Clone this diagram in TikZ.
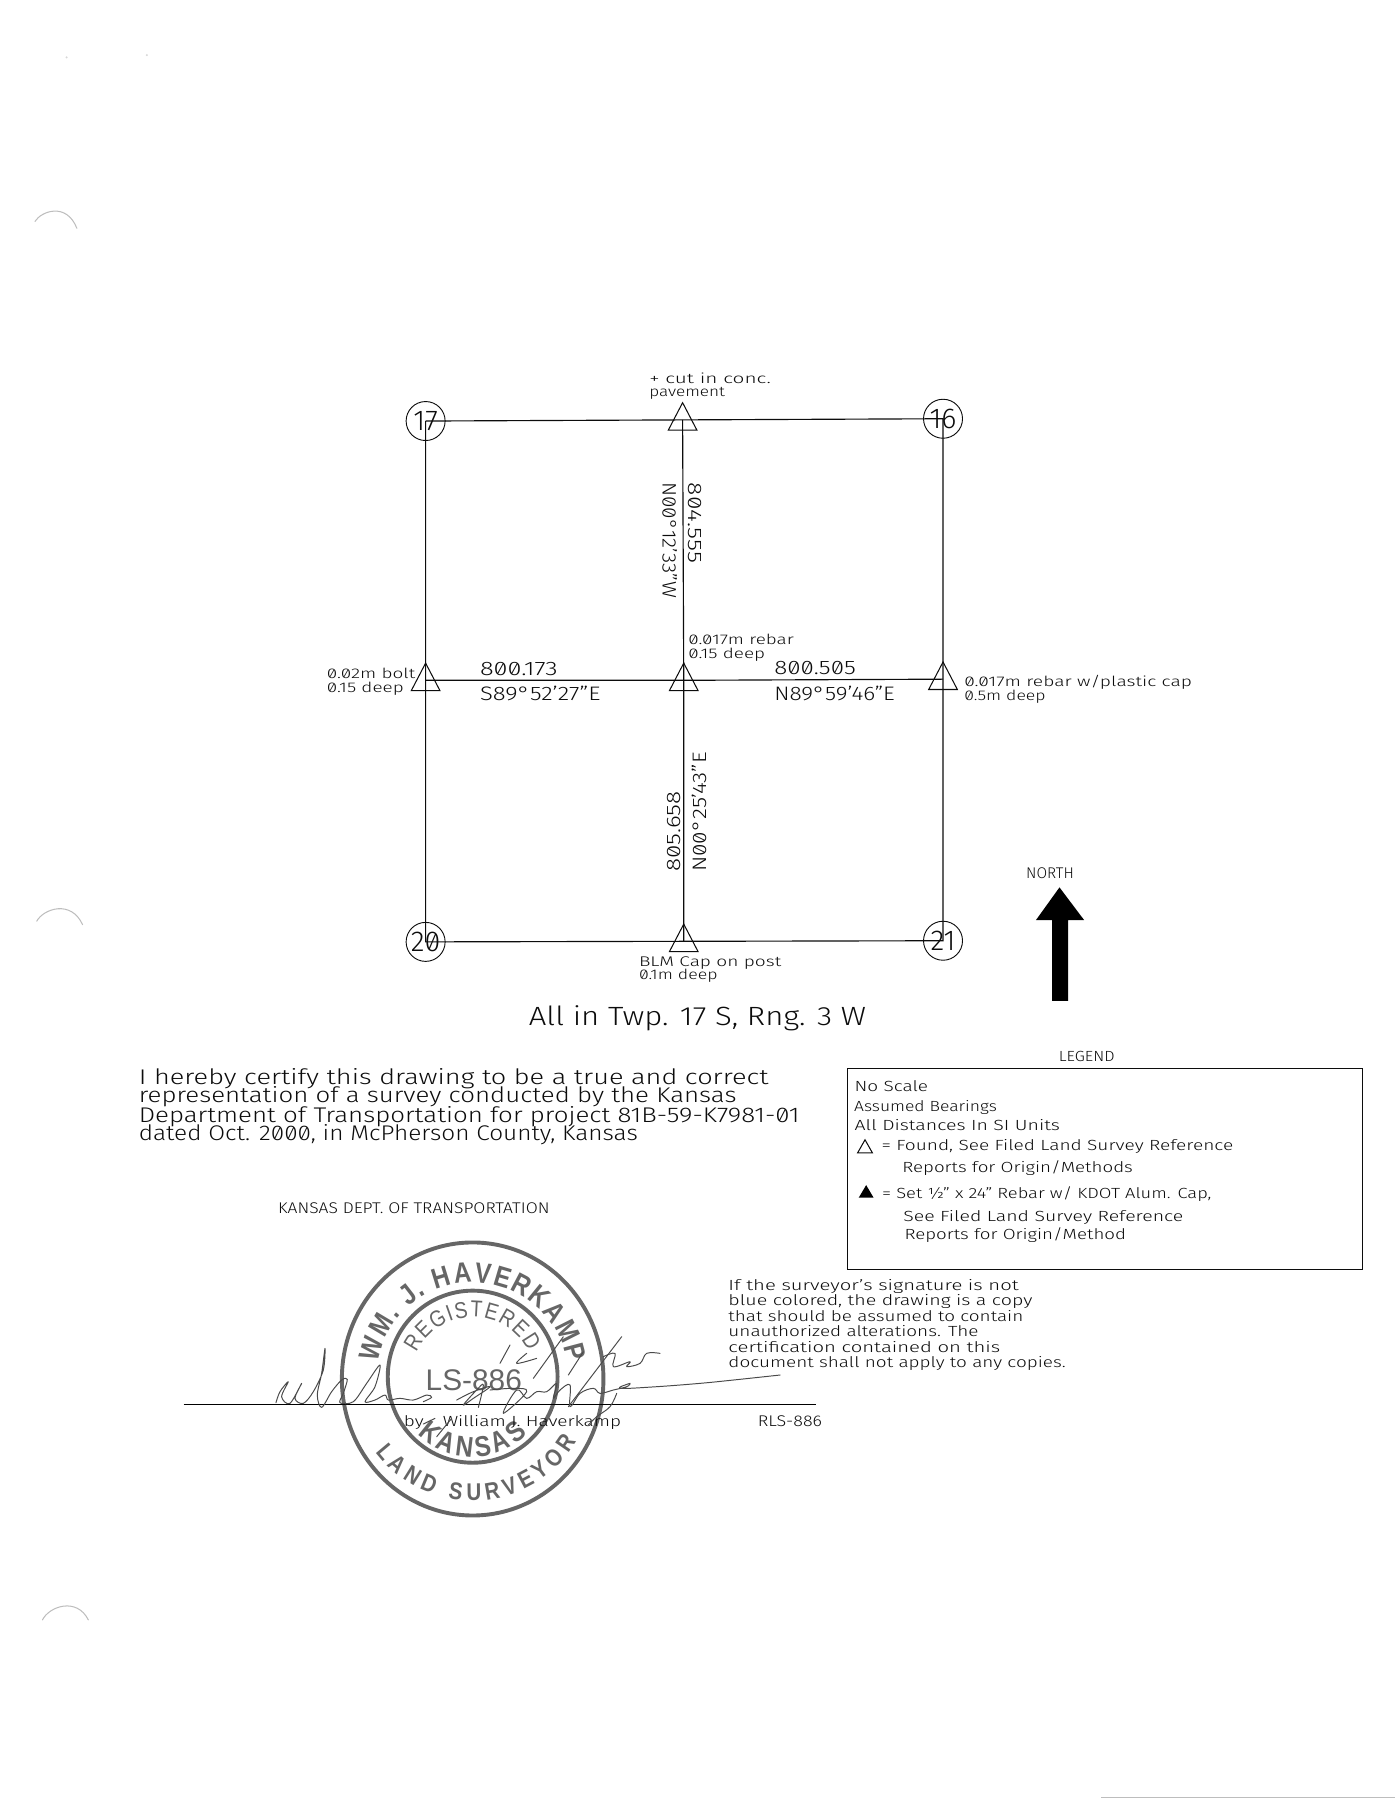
\documentclass[tikz,border=0pt]{standalone}
\usepackage{fontspec}
\usetikzlibrary{decorations.text}
\setmainfont{Fira Sans Light}[Numbers=SlashedZero]
\newfontfamily\stampfont{Liberation Sans}[FakeStretch=0.85]
\newfontfamily\stampplain{Liberation Sans}
\newsavebox\fitbox
\newcommand\fitw[2]{\sbox\fitbox{#2}\pgfmathsetmacro\fitr{#1/\the\wd\fitbox}\scalebox{\fitr}[1]{\usebox\fitbox}}
\definecolor{ink}{HTML}{0C0C0C}
\definecolor{stampink}{HTML}{666666}
\definecolor{signink}{HTML}{4A4A4A}
\definecolor{ghost}{HTML}{BDBDBD}
\tikzset{
 txt/.style={anchor=base west,inner sep=0pt,outer sep=0pt,text=ink},
 tsmall/.style={txt,font=\fontsize{12.2}{12.2}\selectfont},
 tmed/.style={txt,font=\fontsize{17}{17}\selectfont},
 tbody/.style={txt,font=\fontsize{18.5}{18.5}\selectfont},
 tleg/.style={txt,font=\fontsize{12.8}{12.8}\selectfont},
 tbig/.style={txt,font=\fontsize{23}{23}\selectfont},
 corner/.style={draw=ink,circle,minimum size=34pt,inner sep=0pt,line width=0.8pt,text=ink},
 cornernum/.style={font=\fontsize{25}{25}\selectfont,text=ink,inner sep=0pt},
 survey/.pic={\draw[ink,line width=0.9pt,line join=miter] (0,-15)--(12.5,9)--(-12.5,9)--cycle;},
 lineink/.style={draw=ink,line width=1pt},
 signstroke/.style={draw=signink,line width=0.85pt,line cap=round,line join=round},
 ringstyle/.style={draw=stampink,line width=3.4pt},
 ghostarc/.style={draw=ghost,line width=0.9pt,line cap=round},
}
\begin{document}
\begin{tikzpicture}[x=1pt,y=-1pt]
\useasboundingbox (0,0) rectangle (1216,1569);
% scan artefacts
\draw[ghostarc] (30.5,193) .. controls (36,184) and (58,176) .. (67,199);
\draw[ghostarc] (32,803) .. controls (38,792) and (62,784) .. (72,806);
\draw[ghostarc] (37,1412) .. controls (43,1400) and (67,1392) .. (77,1412);
\fill[ghost!60] (58,50) circle (1pt) (128,48) circle (1pt);
\draw[ghost,line width=0.7pt] (960,1567) -- (1216,1567);
% corners
\coordinate (tN) at (595,366);
\coordinate (tW) at (371,593);
\coordinate (tC) at (596,593);
\coordinate (tE) at (822,592);
\coordinate (tS) at (596,820.5);
\node[corner] (c17) at (371,367) {};
\node[corner] (c16) at (822,365) {};
\node[corner] (c20) at (371,821) {};
\node[corner] (c21) at (822,820) {};
\node[cornernum] (n17) at (c17.center) {17};
\node[cornernum] (n16) at (c16.center) {16};
\node[cornernum] (n20) at (c20.center) {20};
\node[cornernum] (n21) at (c21.center) {21};
\draw[lineink] (c17.center) -- (tN) -- (c16.center) -- (tE) -- (c21.center) -- (tS) -- (c20.center) -- (tW) -- (c17.center);
\draw[lineink] (tN) -- (tC) -- (tS);
\draw[lineink] (tW) -- (tC) -- (tE);
\foreach \t in {tN,tW,tC,tE,tS} {\pic at (\t) {survey};}
% annotations
\node[tsmall] (a1) at (566,334) {\fitw{106}{+ cut in conc.}};
\node[tsmall] (a2) at (566,346) {\fitw{66}{pavement}};
\node[tsmall] (a3) at (600,562) {\fitw{92}{0.017m rebar}};
\node[tsmall] (a4) at (600,574) {\fitw{67}{0.15 deep}};
\node[tsmall] (a5) at (285,591) {\fitw{77}{0.02m bolt}};
\node[tsmall] (a6) at (285,603.5) {\fitw{67}{0.15 deep}};
\node[tsmall] (a7) at (840.5,598.5) {\fitw{198.5}{0.017m rebar w/plastic cap}};
\node[tsmall] (a8) at (840.5,610.5) {\fitw{71}{0.5m deep}};
\node[tsmall] (a9) at (557,842.5) {\fitw{124}{BLM Cap on post}};
\node[tsmall] (a10) at (557,854) {\fitw{68.5}{0.1m deep}};
\node[tmed] (d1) at (418.5,588.5) {\fitw{67.5}{800.173}};
\node[tmed] (b1) at (418.5,611) {\fitw{105}{S89°52'27"E}};
\node[tmed] (d2) at (675,588) {\fitw{71}{800.505}};
\node[tmed] (b2) at (675,610.5) {\fitw{105}{N89°59'46"E}};
\node[tmed,rotate=-90] (d3) at (600.5,421) {\fitw{70}{804.555}};
\node[tmed,rotate=-90] (b3) at (577.5,420.5) {\fitw{101}{N00°12'33"W}};
\node[tmed,rotate=90] (d4) at (593,760) {\fitw{70}{805.658}};
\node[tmed,rotate=90] (b4) at (615.5,760) {\fitw{104.5}{N00°25'43"E}};
\node[tleg,font=\fontsize{13.5}{13.5}\selectfont] (north) at (894.5,766) {\fitw{41.5}{NORTH}};
\fill[black] (923.5,773.5) -- (945,802) -- (931,802) -- (931,872.5) -- (917,872.5) -- (917,802) -- (903,802) -- cycle;
\node[tbig] (all) at (461,894) {\fitw{294}{All in Twp. 17 S, Rng. 3 W}};
% certification
\node[tbody] (c1) at (121,945) {\fitw{549}{I hereby certify this drawing to be a true and correct}};
\node[tbody] (c2) at (121,961) {\fitw{521}{representation of a survey conducted by the Kansas}};
\node[tbody] (c3) at (121,978) {\fitw{576}{Department of Transportation for project 81B-59-K7981-01}};
\node[tbody] (c4) at (121,994) {\fitw{435}{dated Oct. 2000, in McPherson County, Kansas}};
\node[tleg,font=\fontsize{13.5}{13.5}\selectfont] (kd) at (242.5,1057.5) {\fitw{236.5}{KANSAS DEPT. OF TRANSPORTATION}};
% legend
\node[tleg] (lt) at (923,925.5) {\fitw{48.5}{LEGEND}};
\node[draw=ink,line width=1pt,minimum width=449pt,minimum height=175pt,inner sep=0pt,anchor=north west] (lbox) at (738,931) {};
\node[tleg] (l1) at (745,951.5) {\fitw{64}{No Scale}};
\node[tleg] (l2) at (744.5,968.5) {\fitw{124.5}{Assumed Bearings}};
\node[tleg] (l3) at (745,985) {\fitw{179}{All Distances In SI Units}};
\draw[ink,line width=0.9pt] (754,993.5) -- (760.5,1005) -- (747.5,1005) -- cycle;
\node[tleg] (l4) at (768.5,1003) {\fitw{306.5}{= Found, See Filed Land Survey Reference}};
\node[tleg] (l5) at (786.5,1022) {\fitw{201}{Reports for Origin/Methods}};
\fill[black] (755,1033) -- (761.5,1044) -- (748.5,1044) -- cycle;
\node[tleg] (l6) at (769,1045) {\fitw{287}{= Set ½" x 24" Rebar w/ KDOT Alum. Cap,}};
\node[tleg] (l7) at (787.5,1064.5) {\fitw{244}{See Filed Land Survey Reference}};
\node[tleg] (l8) at (788.5,1080) {\fitw{193}{Reports for Origin/Method}};
% note
\node[tleg] (m1) at (635,1124.5) {\fitw{253}{If the surveyor's signature is not}};
\node[tleg] (m2) at (635,1138) {\fitw{265}{blue colored, the drawing is a copy}};
\node[tleg] (m3) at (635,1152) {\fitw{257}{that should be assumed to contain}};
\node[tleg] (m4) at (635,1165) {\fitw{218}{unauthorized alterations. The}};
\node[tleg] (m5) at (635,1178.5) {\fitw{237}{certification contained on this}};
\node[tleg] (m6) at (635,1192) {\fitw{294}{document shall not apply to any copies.}};
% stamp
\begin{scope}[shift={(412,1202)},x=1pt,y=1pt]
\draw[ringstyle] (0,0) ellipse (114pt and 119pt);
\draw[ringstyle] (0,2) ellipse (74pt and 75pt);
\path[decorate,decoration={text along path,text align={fit to path},text color=stampink,
  text={|\stampfont\bfseries\fontsize{25}{25}\selectfont|WM. J. HAVERKAMP}}]
  (170:84) arc[start angle=170,end angle=10,radius=84];
\path[decorate,decoration={text along path,text align={fit to path},text color=stampink,
  text={|\stampfont\bfseries\fontsize{21}{21}\selectfont|LAND SURVEYOR}}]
  (217:106) arc[start angle=217,end angle=329,radius=106];
\path[decorate,decoration={text along path,text align={fit to path},text color=stampink,
  text={|\stampfont\fontsize{20}{20}\selectfont|REGISTERED}}]
  (155:54) arc[start angle=155,end angle=26,radius=54];
\path[decorate,decoration={text along path,text align={fit to path},text color=stampink,
  text={|\stampfont\bfseries\fontsize{25}{25}\selectfont|KANSAS}}]
  (225:68) arc[start angle=225,end angle=315,radius=68];
\node[font=\stampplain\fontsize{26}{26}\selectfont,text=stampink,anchor=base,inner sep=0pt] (ls) at (1,-10) {LS-886};
\end{scope}
% signature line and text
\coordinate (sigL) at (160,1224);
\coordinate (sigR) at (711,1224);
\draw[black,line width=1.1pt] (sigL) -- (sigR);
\node[tleg] (by) at (352,1243.5) {\fitw{189.5}{by\quad William J. Haverkamp}};
\node[tleg,font=\fontsize{13.5}{13.5}\selectfont] (rls) at (660.5,1243.5) {\fitw{56}{RLS-886}};
% signature
\begin{scope}[shift={(226.6,1150.6)},x=0.2906pt,y=-0.2906pt]
\draw[signstroke] plot[smooth,tension=0.55] coordinates {(48,248)(60,215)(85,185)(65,230)(90,250)(125,190)(105,235)(130,250)(160,215)(190,150)(195,85)(185,160)(172,225)(185,262)(215,215)(245,180)(262,178)(250,220)(240,248)(280,245)(320,190)(360,135)(345,200)(315,245)(345,240)(375,225)(385,240)(420,235)(460,240)(500,225)(515,232)(490,245)};
\draw[signstroke] plot[smooth,tension=0.6] coordinates {(590,240)(640,215)(690,200)(640,235)(610,255)(650,210)(670,195)(655,262)};
\draw[signstroke] plot[smooth,tension=0.6] coordinates {(690,210)(760,205)(800,215)(730,280)(770,210)(800,235)(830,215)(860,215)(890,190)(880,235)(900,210)(930,195)(930,260)(960,220)(1000,205)(1020,220)(1060,210)(1100,200)(1110,190)(1080,205)(1190,200)(1320,190)(1420,180)(1560,165)};
\draw[signstroke] (1085,50) -- (925,260);
\draw[signstroke] (970,95) -- (925,165);
\draw[signstroke] (910,50) -- (820,175);
\draw[signstroke] (750,75) -- (720,130);
\draw[signstroke] (525,295) -- (490,312);
\draw[signstroke] (575,295) -- (530,350);
\draw[signstroke] plot[smooth,tension=0.6] coordinates {(830,115)(770,130)(800,100)};
\draw[signstroke] plot[smooth,tension=0.6] coordinates {(1030,110)(1065,100)(1060,140)(1110,125)(1100,140)(1140,130)(1160,100)(1200,100)};
\draw[signstroke] plot[smooth,tension=0.6] coordinates {(1070,220)(1050,260)(1010,290)(985,315)};
\end{scope}
\end{tikzpicture}
\end{document}
